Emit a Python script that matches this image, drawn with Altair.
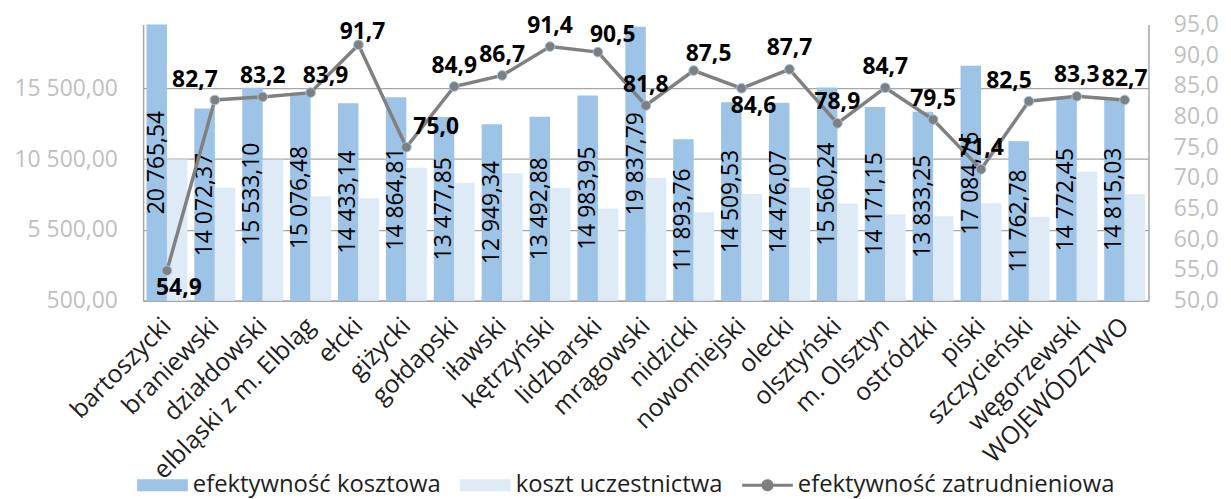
import altair as alt
import pandas as pd

categories = ["bartoszycki", "braniewski", "działdowski", "elbląski z m. Elbląg", "ełcki",
              "giżycki", "gołdapski", "iławski", "kętrzyński", "lidzbarski", "mrągowski",
              "nidzicki", "nowomiejski", "olecki", "olsztyński", "m. Olsztyn", "ostródzki",
              "piski", "szczycieński", "węgorzewski", "WOJEWÓDZTWO"]

efektywnosc_kosztowa = [20765.54, 14072.37, 15533.10, 15076.48, 14433.14, 14864.81, 13477.85,
                        12949.34, 13492.88, 14983.95, 19837.79, 11893.76, 14509.53, 14476.07,
                        15560.24, 14171.15, 13833.25, 17084.76, 11762.78, 14772.45, 14815.03]

koszt_uczestnictwa = [10470, 8480, 10450, 7870, 7730, 9890, 8810, 9490, 8460, 7010, 9160,
                      6750, 8040, 8480, 7360, 6610, 6470, 7380, 6420, 9610, 8010]

efektywnosc_zatrudnieniowa = [54.9, 82.7, 83.2, 83.9, 91.7, 75.0, 84.9, 86.7, 91.4, 90.5, 81.8,
                              87.5, 84.6, 87.7, 78.9, 84.7, 79.5, 71.4, 82.5, 83.3, 82.7]

# placement of each line data label (as set in the original chart)
label_placement = ["below", "above-left", "above", "above-right", "above-close", "far-right",
                   "above", "above", "above", "above-right", "above", "above-right", "below",
                   "above", "above", "above", "above", "above", "above-left", "above", "above"]

series_names = ["efektywność kosztowa", "koszt uczestnictwa", "efektywność zatrudnieniowa"]
left_ticks = [500, 5500, 10500, 15500]
right_ticks = [50, 55, 60, 65, 70, 75, 80, 85, 90, 95]

FONT = "Open Sans"
DARK = "#9dc3e6"
LIGHT = "#deebf7"
LINE = "#7f7f7f"
GRID = "#a6a6a6"
AXIS_LABEL = "#bfbfbf"
TEXT = "#1e1e1e"

bar_rows = []
for c, a, b in zip(categories, efektywnosc_kosztowa, koszt_uczestnictwa):
    bar_rows.append({"cat": c, "series": series_names[0], "value": a})
    bar_rows.append({"cat": c, "series": series_names[1], "value": b})
bar_df = pd.DataFrame(bar_rows)

line_df = pd.DataFrame({"cat": categories, "value": efektywnosc_zatrudnieniowa,
                        "pos": label_placement, "series": series_names[2]})

legend_df = pd.DataFrame({"series": series_names})

NUM2 = "replace(replace(format({v}, ',.2f'), regexp(',', 'g'), ' '), '.', ',')"
NUM1 = "replace(format({v}, '.1f'), '.', ',')"

x_enc = alt.X(
    "cat:N", sort=categories, title=None,
    scale=alt.Scale(domain=categories, paddingInner=0.145, paddingOuter=0.07),
    axis=alt.Axis(labelAngle=-45, labelAlign="right", labelBaseline="middle",
                  labelFont=FONT, labelFontSize=25, labelColor=TEXT, ticks=False,
                  labelPadding=21, domainColor=GRID, domainWidth=1.5, labelLimit=400,
                  labelOverlap=False, grid=False),
)

xoff_enc = alt.XOffset("series:N", scale=alt.Scale(domain=series_names[:2], paddingInner=0,
                                                    paddingOuter=0))

left_axis = alt.Axis(orient="left", values=left_ticks, labelExpr=NUM2.format(v="datum.value"),
                     labelFont=FONT, labelFontSize=23, labelColor=AXIS_LABEL, ticks=False,
                     labelPadding=26, grid=True, gridColor=GRID, gridWidth=1.2,
                     domainColor=GRID, domainWidth=1.5, title=None)
left_scale = alt.Scale(domain=[500, 20000], nice=False, zero=False)

right_axis = alt.Axis(orient="right", values=right_ticks, labelExpr=NUM1.format(v="datum.value"),
                      labelFont=FONT, labelFontSize=23, labelColor=AXIS_LABEL, ticks=False,
                      labelPadding=25, grid=False, domainColor=GRID, domainWidth=1.5, title=None)
right_scale = alt.Scale(domain=[50, 95], nice=False, zero=False)

shapes = ["M-1,-0.235H1V0.235H-1Z",
          "M-1,-0.235H1V0.235H-1Z",
          "M-1,-0.06H1V0.06H-1Z M0.24,0A0.24,0.24 0 1,1 -0.24,0A0.24,0.24 0 1,1 0.24,0Z"]

leg = alt.Legend(title=None, orient="none", legendX=-6, legendY=438, direction="horizontal",
                 columns=3, symbolSize=2601, labelFont=FONT, labelFontSize=24,
                 labelColor=TEXT, labelOffset=5, columnPadding=19, symbolStrokeWidth=0,
                 labelLimit=500)
color_enc = alt.Color("series:N", scale=alt.Scale(domain=series_names, range=[DARK, LIGHT, LINE]),
                      legend=leg)

bars = alt.Chart(bar_df).mark_bar(clip=True).encode(
    x=x_enc, xOffset=xoff_enc,
    y=alt.Y("value:Q", scale=left_scale, axis=left_axis),
    color=color_enc,
)

bar_labels = alt.Chart(bar_df).transform_filter(
    alt.datum.series == series_names[0]
).transform_calculate(
    mid="(500 + min(datum.value, 20000)) / 2",
    txt=NUM2.format(v="datum.value"),
).mark_text(angle=270, font=FONT, fontSize=23, color="black", align="center",
            baseline="middle").encode(
    x=x_enc, xOffset=xoff_enc,
    y=alt.Y("mid:Q", scale=left_scale, axis=left_axis),
    text="txt:N",
)

bar_group = alt.layer(bars, bar_labels)

y_right = alt.Y("value:Q", scale=right_scale, axis=right_axis)

line = alt.Chart(line_df).mark_line(color="#808080", strokeWidth=3.5).encode(x=x_enc, y=y_right)
points = alt.Chart(line_df).mark_circle(size=95, color=LINE, stroke=DARK, strokeWidth=1,
                                        opacity=1).encode(x=x_enc, y=y_right)

offsets = {"above": (0, -21), "above-close": (4, -13), "below": (12, 18),
           "above-left": (-20, -20), "above-right": (15, -17), "far-right": (30, -20)}
label_layers = []
for name, (dx, dy) in offsets.items():
    label_layers.append(
        alt.Chart(line_df).transform_filter(alt.datum.pos == name).transform_calculate(
            txt=NUM1.format(v="datum.value")
        ).mark_text(font=FONT, fontSize=23, fontWeight="bold", color="black", dx=dx, dy=dy,
                    align="center", baseline="middle").encode(x=x_enc, y=y_right, text="txt:N")
    )

legend_layer = alt.Chart(legend_df).transform_filter("false").mark_point(
    filled=True, opacity=1).encode(
    color=color_enc,
    shape=alt.Shape("series:N", scale=alt.Scale(domain=series_names, range=shapes), legend=leg),
)

line_group = alt.layer(line, points, *label_layers, legend_layer)

chart = alt.layer(bar_group, line_group).resolve_scale(y="independent").properties(
    width=1012, height=278,
    autosize=alt.AutoSizeParams(type="none"),
    padding={"left": 136, "top": 15, "right": 75, "bottom": 198},
).configure_view(stroke=None)

chart.save("out.html", embed_options={"renderer": "svg", "actions": False})
